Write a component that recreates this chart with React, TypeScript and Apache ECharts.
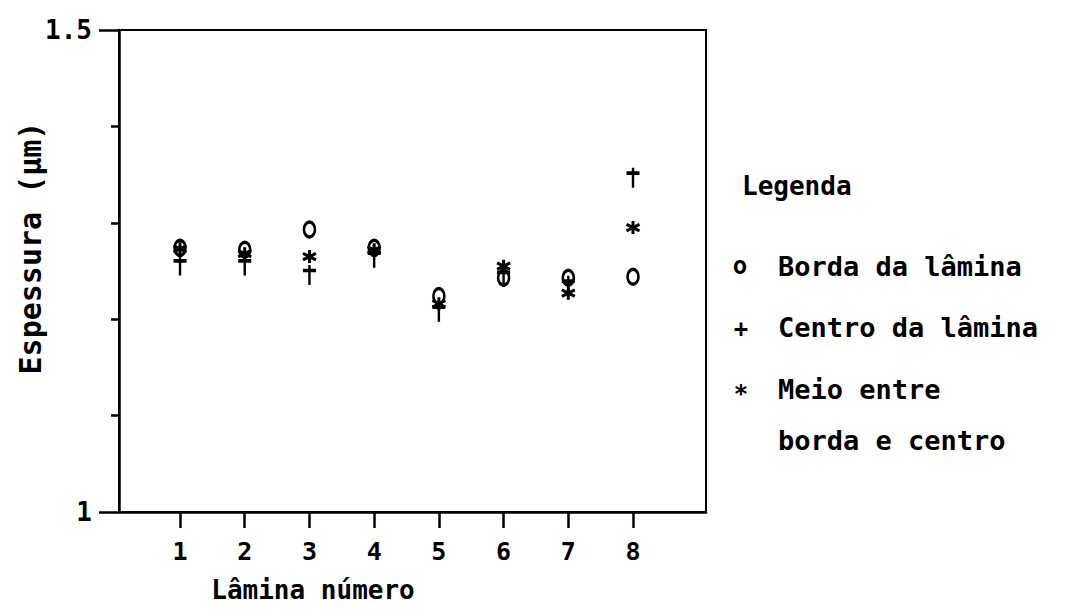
import React, { useEffect, useRef } from "react";
import * as echarts from "echarts";

const laminas = [1, 2, 3, 4, 5, 6, 7, 8];
const borda = [1.274, 1.272, 1.293, 1.274, 1.224, 1.243, 1.243, 1.244];
const centro = [1.261, 1.261, 1.251, 1.269, 1.213, 1.249, 1.240, 1.352];
const meio = [1.273, 1.268, 1.265, 1.272, 1.216, 1.255, 1.227, 1.295];
const yTickMinor = [1.1, 1.2, 1.3, 1.4];
const yTickMajor = [1, 1.5];

const INK = "#000";
const FONT = "'DejaVu Sans Mono', monospace";

const ringPath = "path://M5 0 A5 6.5 0 1 1 5 13 A5 6.5 0 1 1 5 0 Z";
const plusPath = "path://M0 6 L14 6 M7 0 L7 22";
const starPath = "path://M7 0 L7 14 M1 3.5 L13 10.5 M1 10.5 L13 3.5";

export default function App() {
  const ref = useRef<HTMLDivElement>(null);
  useEffect(() => {
    if (!ref.current) return;
    const chart = echarts.init(ref.current, undefined, { renderer: "svg" });
    const pts = (vals: number[]) => vals.map((v, i) => [laminas[i], v]);
    const strokeStyle = (w: number) => ({ color: "none", borderColor: INK, borderWidth: w, opacity: 1 });
    const txt = (text: string, x: number, y: number, size: number, align = "left") => ({
      type: "text",
      style: { text, x, y, fill: INK, font: `bold ${size}px ${FONT}`, align, verticalAlign: "middle" },
    });
    chart.setOption({
      animation: false,
      backgroundColor: "#fff",
      grid: {
        left: 119,
        top: 30,
        right: 360,
        bottom: 101,
        show: true,
        borderColor: INK,
        borderWidth: 2,
        backgroundColor: "transparent",
      },
      xAxis: {
        type: "value",
        min: 0.057,
        max: 9.128,
        axisLine: { show: true, lineStyle: { color: INK, width: 2.5 } },
        axisTick: { show: true, customValues: laminas, length: 16, lineStyle: { color: INK, width: 2.5 } },
        axisLabel: {
          show: true,
          customValues: laminas,
          margin: 27,
          color: INK,
          fontSize: 25,
          fontWeight: "bold",
          fontFamily: FONT,
        },
        splitLine: { show: false },
      },
      yAxis: [
        {
          type: "value",
          min: 1,
          max: 1.5,
          position: "left",
          axisLine: { show: true, lineStyle: { color: INK, width: 2.5 } },
          axisTick: { show: true, customValues: yTickMinor, length: 8, lineStyle: { color: INK, width: 2.5 } },
          axisLabel: {
            show: true,
            customValues: yTickMajor,
            margin: 27,
            color: INK,
            fontSize: 26,
            fontWeight: "bold",
            fontFamily: FONT,
          },
          splitLine: { show: false },
        },
        {
          type: "value",
          min: 1,
          max: 1.5,
          position: "left",
          axisLine: { show: false },
          axisTick: { show: true, customValues: yTickMajor, length: 20, lineStyle: { color: INK, width: 2.5 } },
          axisLabel: { show: false },
          splitLine: { show: false },
        },
      ],
      series: [
        {
          name: "Borda da lâmina",
          type: "scatter",
          data: pts(borda),
          symbol: ringPath,
          symbolSize: [11, 15],
          itemStyle: strokeStyle(3),
        },
        {
          name: "Centro da lâmina",
          type: "scatter",
          data: pts(centro),
          symbol: plusPath,
          symbolSize: [13, 20],
          symbolOffset: [0, 5],
          itemStyle: strokeStyle(3),
        },
        {
          name: "Meio entre borda e centro",
          type: "scatter",
          data: pts(meio),
          symbol: starPath,
          symbolSize: [13, 13],
          itemStyle: strokeStyle(3),
        },
      ],
      graphic: [
        {
          type: "text",
          x: 30,
          y: 248,
          rotation: Math.PI / 2,
          style: {
            text: "Espessura (µm)",
            x: 0,
            y: 0,
            fill: INK,
            font: `bold 30px ${FONT}`,
            align: "center",
            verticalAlign: "middle",
          },
        },
        txt("Lâmina número", 313, 590, 26, "center"),
        txt("Legenda", 742, 186, 26),
        txt("o", 740, 266, 24, "center"),
        txt("+", 741, 329, 24, "center"),
        txt("*", 741, 394, 24, "center"),
        txt("Borda da lâmina", 778, 266, 27),
        txt("Centro da lâmina", 778, 327, 27),
        txt("Meio entre", 778, 389, 27),
        txt("borda e centro", 778, 440, 27),
      ],
    });
    return () => chart.dispose();
  }, []);
  return (
    <div
      ref={ref}
      style={{ position: "fixed", left: 0, top: 0, width: 1066, height: 613, background: "#fff" }}
    />
  );
}
